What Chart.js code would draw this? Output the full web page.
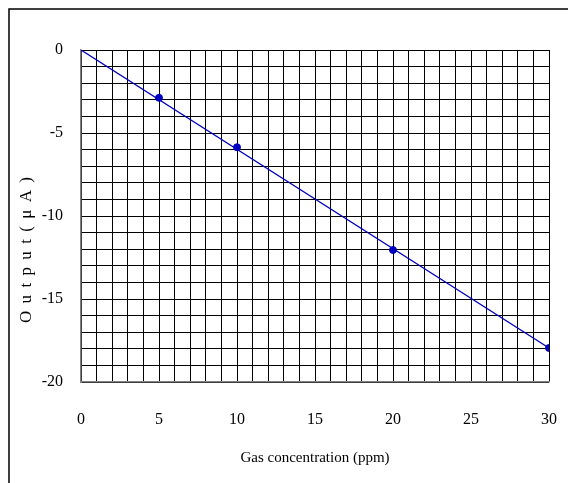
<!DOCTYPE html>
<html>
<head>
<meta charset="utf-8">
<script src="https://cdn.jsdelivr.net/npm/chart.js@4/dist/chart.umd.min.js"></script>
<style>
html,body{margin:0;padding:0;background:#fff;}
#wrap{width:568px;height:483px;position:relative;}
</style>
</head>
<body>
<div id="wrap"><canvas id="c" width="568" height="483"></canvas></div>
<script>
// Measured points
const concentration = [5, 10, 20, 30];
const outputCurrent = [-2.88, -5.86, -12.05, -17.95];
// Fitted line through origin
const fitX = [0, 30];
const fitY = [0, -17.95];
// Axis tick labels (shown every 5 units; grid every 1 unit)
const xTickLabels = [0, 5, 10, 15, 20, 25, 30];
const yTickLabels = [0, -5, -10, -15, -20];
const yTitle = 'Output(μA)';

const serif = "'Liberation Serif', 'Times New Roman', serif";

const frame = {
  id: 'frame',
  afterDraw(chart) {
    const ctx = chart.ctx;
    ctx.save();
    ctx.strokeStyle = '#000';
    ctx.lineWidth = 1.5;
    ctx.strokeRect(9, 9, 700, 700);
    // spaced y-axis title
    ctx.font = '17px ' + serif;
    ctx.fillStyle = '#000';
    ctx.textBaseline = 'middle';
    ctx.textAlign = 'left';
    const target = 146;
    const natural = ctx.measureText(yTitle).width;
    const n = Array.from(yTitle).length;
    const gap = (target - natural) / (n - 1);
    ctx.translate(27, 250);
    ctx.rotate(-Math.PI / 2);
    if ('letterSpacing' in ctx) {
      ctx.letterSpacing = gap + 'px';
      ctx.fillText(yTitle, -target / 2, 0);
    } else {
      let cx = -target / 2;
      for (const ch of yTitle) {
        ctx.fillText(ch, cx, 0);
        cx += ctx.measureText(ch).width + gap;
      }
    }
    ctx.restore();
  }
};

new Chart(document.getElementById('c'), {
  type: 'scatter',
  data: {
    datasets: [
      {
        data: fitX.map((x, i) => ({x, y: fitY[i]})),
        showLine: true,
        borderColor: '#0000C0',
        borderWidth: 1.3,
        pointRadius: 0,
        fill: false
      },
      {
        data: concentration.map((x, i) => ({x, y: outputCurrent[i]})),
        showLine: false,
        backgroundColor: '#0000C0',
        borderColor: '#0000C0',
        pointRadius: 3.5,
        pointStyle: 'circle'
      }
    ]
  },
  options: {
    responsive: false,
    animation: false,
    layout: {padding: {top: 50, right: 19, left: 0, bottom: 0}},
    plugins: {legend: {display: false}, tooltip: {enabled: false}},
    scales: {
      x: {
        type: 'linear', min: 0, max: 30,
        afterFit(s) { s.height = 101; s.paddingRight = 0; s.paddingLeft = 0; },
        grid: {color: '#000', lineWidth: 1, drawTicks: false},
        border: {color: '#808080', width: 1.5},
        ticks: {
          stepSize: 1, autoSkip: false, maxRotation: 0, padding: 28,
          color: '#000', font: {family: serif, size: 16},
          callback: v => xTickLabels.includes(v) ? String(v) : ''
        },
        title: {display: true, text: 'Gas concentration (ppm)', color: '#000',
          font: {family: serif, size: 15}, padding: {top: 16, bottom: 16}}
      },
      y: {
        type: 'linear', min: -20, max: 0,
        afterFit(s) { s.width = 81; },
        grid: {color: '#000', lineWidth: 1, drawTicks: false},
        border: {color: '#808080', width: 1.5},
        ticks: {
          stepSize: 1, autoSkip: false, padding: 18,
          color: '#000', font: {family: serif, size: 16},
          callback: v => yTickLabels.includes(v) ? String(v) : ''
        },
        title: {display: false}
      }
    }
  },
  plugins: [frame]
});
</script>
</body>
</html>
